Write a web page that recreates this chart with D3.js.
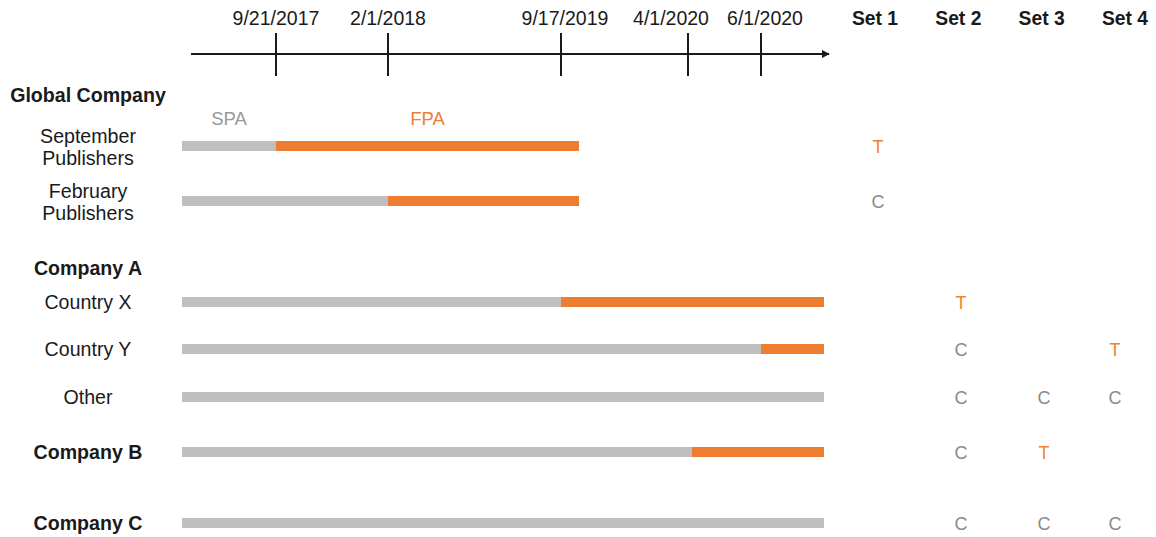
<!DOCTYPE html>
<html>
<head>
<meta charset="utf-8">
<script src="https://cdn.jsdelivr.net/npm/d3@7"></script>
<style>
  body { margin: 0; background: #fff; }
  svg text { font-family: "Liberation Sans", Arial, Helvetica, sans-serif; }
</style>
</head>
<body>
<div id="chart"></div>
<script>
// Timeline of SPA -> FPA switches by company / publisher group

const parse = d3.timeParse('%m/%d/%Y');

const tickDates = ['9/21/2017', '2/1/2018', '9/17/2019', '4/1/2020', '6/1/2020'];
const timelineStart = '5/1/2017';
const timelineEnd = '7/31/2020';

// label list in display order (groups have no bar)
const labels = ['Global Company', 'September Publishers', 'February Publishers', 'Company A',
  'Country X', 'Country Y', 'Other', 'Company B', 'Company C'];
const boldLabels = ['Global Company', 'Company A', 'Company B', 'Company C'];

// rows with bars
const rows = ['September Publishers', 'February Publishers', 'Country X', 'Country Y', 'Other', 'Company B', 'Company C'];
const switchDates = ['9/21/2017', '2/1/2018', '9/17/2019', '6/1/2020', null, '4/4/2020', null];
const endDates = ['10/15/2019', '10/15/2019', '7/31/2020', '7/31/2020', '7/31/2020', '7/31/2020', '7/31/2020'];

const sets = ['Set 1', 'Set 2', 'Set 3', 'Set 4'];
const set1 = ['T', 'C', '', '', '', '', ''];
const set2 = ['', '', 'T', 'C', 'C', 'C', 'C'];
const set3 = ['', '', '', '', 'C', 'T', 'C'];
const set4 = ['', '', '', 'T', 'C', '', 'C'];
const setValues = [set1, set2, set3, set4];

const width = 1156, height = 537;
const grey = '#bfbfbf', orange = '#ed7d31', ink = '#1a1a1a';
const fs = 19.6;

const svg = d3.select('#chart').append('svg')
  .attr('width', width).attr('height', height);

// schematic (not proportional) timeline: piecewise scale through the ticks
const x = d3.scaleTime()
  .domain([timelineStart, ...tickDates, timelineEnd].map(parse))
  .range([182, 276, 388, 561, 688, 761, 824]);

const y = d3.scaleOrdinal()
  .domain(labels)
  .range([95, 146, 201, 268, 302, 349, 397, 452, 523]);

const setX = d3.scalePoint().domain(sets).range([875, 1125]);
const markX = d3.scaleOrdinal().domain(sets).range([878, 961, 1044, 1115]);
// small nudges so crowded date labels don't collide
const tickLabelNudge = d3.scaleOrdinal().domain(tickDates).range([0, 0, 4, -17, 4]);

// timeline axis
const axisY = 54;
const axisG = svg.append('g');
axisG.append('defs').append('marker')
  .attr('id', 'arrow')
  .attr('viewBox', '0 0 10 10')
  .attr('refX', 9).attr('refY', 5)
  .attr('markerWidth', 4).attr('markerHeight', 4)
  .attr('orient', 'auto')
  .append('path').attr('d', 'M0,0L10,5L0,10z').attr('fill', ink);

axisG.append('line')
  .attr('x1', x.range()[0] + 9).attr('x2', x.range()[x.range().length - 1] + 5)
  .attr('y1', axisY).attr('y2', axisY)
  .attr('stroke', ink).attr('stroke-width', 2)
  .attr('marker-end', 'url(#arrow)');

axisG.selectAll('.tick')
  .data(tickDates)
  .join('line')
  .attr('x1', d => x(parse(d))).attr('x2', d => x(parse(d)))
  .attr('y1', axisY - 21).attr('y2', axisY + 22)
  .attr('stroke', ink).attr('stroke-width', 2);

axisG.selectAll('.tick-label')
  .data(tickDates)
  .join('text')
  .attr('x', d => x(parse(d)) + tickLabelNudge(d))
  .attr('y', 25)
  .attr('text-anchor', 'middle')
  .attr('font-size', 19.5)
  .attr('fill', ink)
  .text(d => d);

// row labels
const labelX = 88;
const labelG = svg.append('g');
labels.forEach(name => {
  const bold = boldLabels.includes(name);
  const t = labelG.append('text')
    .attr('text-anchor', 'middle')
    .attr('font-size', fs)
    .attr('font-weight', bold ? 'bold' : 'normal')
    .attr('fill', ink);
  const words = name.split(' ');
  if (name.endsWith('Publishers')) {
    t.append('tspan').attr('x', labelX).attr('y', y(name) - 3).text(words[0]);
    t.append('tspan').attr('x', labelX).attr('y', y(name) + 19).text(words[1]);
  } else {
    t.attr('x', labelX).attr('y', y(name) + 7).text(name);
  }
});

// bars
const barH = 10;
const barG = svg.append('g');
rows.forEach((name, i) => {
  const s = x(parse(timelineStart));
  const e = x(parse(endDates[i]));
  const sw = switchDates[i] ? x(parse(switchDates[i])) : e;
  barG.append('rect')
    .attr('x', s).attr('y', y(name) - barH / 2)
    .attr('width', sw - s).attr('height', barH)
    .attr('fill', grey);
  if (switchDates[i]) {
    barG.append('rect')
      .attr('x', sw).attr('y', y(name) - barH / 2)
      .attr('width', e - sw).attr('height', barH)
      .attr('fill', orange);
  }
});

// SPA / FPA annotations over first row
const sw0 = x(parse(switchDates[0]));
svg.append('text')
  .attr('x', (x(parse(timelineStart)) + sw0) / 2).attr('y', 125)
  .attr('text-anchor', 'middle').attr('font-size', 18.5).attr('fill', '#999')
  .text('SPA');
svg.append('text')
  .attr('x', (sw0 + x(parse(endDates[0]))) / 2).attr('y', 125)
  .attr('text-anchor', 'middle').attr('font-size', 18.5).attr('fill', orange)
  .text('FPA');

// set columns
svg.selectAll('.set-head')
  .data(sets)
  .join('text')
  .attr('x', d => setX(d)).attr('y', 25)
  .attr('text-anchor', 'middle')
  .attr('font-size', 19.3).attr('font-weight', 'bold')
  .attr('fill', ink)
  .text(d => d);

sets.forEach((set, j) => {
  svg.append('g').selectAll('text')
    .data(rows.map((r, i) => ({ row: r, v: setValues[j][i] })).filter(d => d.v))
    .join('text')
    .attr('x', markX(set))
    .attr('y', d => y(d.row) + 6.5)
    .attr('text-anchor', 'middle')
    .attr('font-size', 18)
    .attr('fill', d => d.v === 'T' ? '#f28130' : '#8a8a8a')
    .text(d => d.v);
});
</script>
</body>
</html>
